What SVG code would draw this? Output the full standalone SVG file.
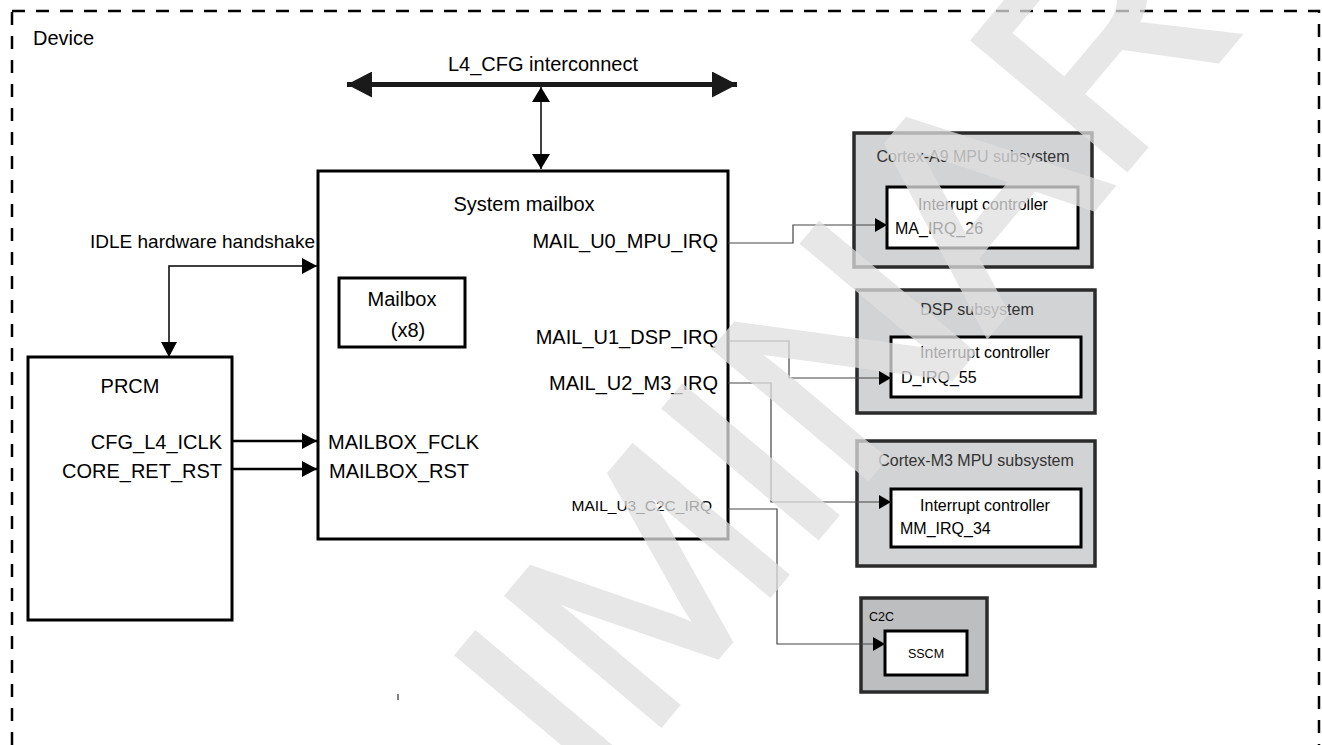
<svg xmlns="http://www.w3.org/2000/svg" width="1322" height="745" viewBox="0 0 1322 745">
<defs>
<style>
text{font-family:"Liberation Sans",Arial,sans-serif;fill:#000}
.big{font-size:20px}
.mid{font-size:19px}
.sub{font-size:16px;fill:#333}
.ic{font-size:16px}
.sm{font-size:15.5px}
.xs{font-size:12.5px}
.box{fill:#fff;stroke:#000;stroke-width:3}
.gbox{fill:#d2d3d5;stroke:#2b2b2b;stroke-width:3.5}
.cbox{fill:#bdbec0;stroke:#2b2b2b;stroke-width:3.5}
.irq{fill:none;stroke:#444;stroke-width:1.2;marker-end:url(#arS)}
.mid-c{text-anchor:middle}
.end{text-anchor:end}
</style>
<marker id="arS" markerUnits="userSpaceOnUse" markerWidth="12" markerHeight="14" refX="12" refY="7" orient="auto"><path d="M0,0L12,7L0,14z" fill="#000"/></marker>
<marker id="arM" markerUnits="userSpaceOnUse" markerWidth="15" markerHeight="16" refX="15" refY="8" orient="auto-start-reverse"><path d="M0,0L15,8L0,16z" fill="#000"/></marker>
<marker id="arV" markerUnits="userSpaceOnUse" markerWidth="15" markerHeight="18" refX="15" refY="9" orient="auto-start-reverse"><path d="M0,0L15,9L0,18z" fill="#000"/></marker>
<marker id="arL" markerUnits="userSpaceOnUse" markerWidth="25" markerHeight="26" refX="25" refY="13" orient="auto-start-reverse"><path d="M0,0L25,13L0,26z" fill="#1a1a1a"/></marker>
</defs>
<rect width="1322" height="745" fill="#fff"/>

<g id="device">
<rect x="12" y="11" width="1307" height="800" fill="none" stroke="#000" stroke-width="2.5" stroke-dasharray="13 11"/>
<text x="33" y="45" class="big">Device</text>
<line x1="398" y1="694" x2="398" y2="700" stroke="#000" stroke-width="1"/>
</g>

<g id="l4cfg">
<text x="543" y="71" class="big mid-c">L4_CFG interconnect</text>
</g>

<g id="system-mailbox">
<rect x="318" y="171" width="410" height="368" class="box"/>
<text x="524" y="211" class="big mid-c">System mailbox</text>
<text x="718" y="248" class="big end">MAIL_U0_MPU_IRQ</text>
<text x="718" y="344" class="big end">MAIL_U1_DSP_IRQ</text>
<text x="718" y="390" class="big end">MAIL_U2_M3_IRQ</text>
<text x="328" y="449" class="big">MAILBOX_FCLK</text>
<text x="329" y="478" class="big">MAILBOX_RST</text>
<text x="712" y="511" class="sm end">MAIL_U3_C2C_IRQ</text>
</g>

<g id="mailbox-x8">
<rect x="339" y="278" width="126" height="69" class="box"/>
<text x="402" y="306" class="big mid-c">Mailbox</text>
<text x="408" y="337" class="big mid-c">(x8)</text>
</g>

<g id="prcm">
<rect x="28" y="357" width="204" height="263" class="box"/>
<text x="130" y="393" class="big mid-c">PRCM</text>
<text x="222" y="449" class="big end">CFG_L4_ICLK</text>
<text x="222" y="478" class="big end">CORE_RET_RST</text>
</g>

<g id="cortex-a9">
<rect x="854" y="133" width="238" height="134" class="gbox"/>
<text x="973" y="162" class="sub mid-c">Cortex-A9 MPU subsystem</text>
<rect x="887" y="187" width="191" height="61" class="box"/>
<text x="983" y="210" class="ic mid-c">Interrupt controller</text>
<text x="895" y="234" class="ic">MA_IRQ_26</text>
</g>

<g id="dsp">
<rect x="857" y="290" width="238" height="123" class="gbox"/>
<text x="977" y="315" class="sub mid-c">DSP subsystem</text>
<rect x="891" y="337" width="190" height="60" class="box"/>
<text x="985" y="358" class="ic mid-c">Interrupt controller</text>
<text x="901" y="383" class="ic">D_IRQ_55</text>
</g>

<g id="cortex-m3">
<rect x="857" y="441" width="238" height="125" class="gbox"/>
<text x="976" y="466" class="sub mid-c">Cortex-M3 MPU subsystem</text>
<rect x="891" y="489" width="190" height="58" class="box"/>
<text x="985" y="511" class="ic mid-c">Interrupt controller</text>
<text x="900" y="534" class="ic">MM_IRQ_34</text>
</g>

<g id="c2c">
<rect x="861" y="598" width="126" height="94" class="cbox"/>
<text x="869" y="621" class="xs">C2C</text>
<rect x="885" y="631" width="82" height="44" class="box"/>
<text x="926" y="658" class="xs mid-c">SSCM</text>
</g>

<g id="connectors">
<line x1="347" y1="84.5" x2="737" y2="84.5" stroke="#1a1a1a" stroke-width="5" marker-start="url(#arL)" marker-end="url(#arL)"/>
<line x1="541" y1="87" x2="541" y2="169" stroke="#000" stroke-width="1.5" marker-start="url(#arV)" marker-end="url(#arV)"/>
<polyline points="169,357 169,266 317,266" fill="none" stroke="#000" stroke-width="1.5" marker-start="url(#arM)" marker-end="url(#arM)"/>
<text x="315" y="248" class="mid end">IDLE hardware handshake</text>
<line x1="232" y1="441" x2="317" y2="441" stroke="#000" stroke-width="2.5" marker-end="url(#arM)"/>
<line x1="232" y1="469" x2="317" y2="469" stroke="#000" stroke-width="2.5" marker-end="url(#arM)"/>
<polyline points="728,243 793,243 793,225 887,225" class="irq"/>
<polyline points="728,341 789,341 789,378 891,378" class="irq"/>
<polyline points="728,383 771,383 771,502 891,502" class="irq"/>
<polyline points="728,509 777,509 777,644 885,644" class="irq"/>
</g>

<g id="watermark" opacity="0.75">
<text x="0" y="0" transform="translate(107,1384) rotate(-50)" style="font-family:'Liberation Sans',Arial,sans-serif;font-size:290px;fill:#e0e0e0;stroke:#e0e0e0;stroke-width:6;stroke-linejoin:miter">PRELIMINARY</text>
</g>
</svg>
